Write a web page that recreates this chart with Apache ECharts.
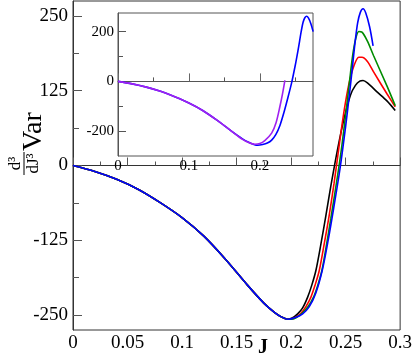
<!DOCTYPE html>
<html><head><meta charset="utf-8">
<script src="https://cdn.jsdelivr.net/npm/echarts@6/dist/echarts.min.js"></script>
<style>html,body{margin:0;padding:0;background:#fff}#c{width:415px;height:357px}</style>
</head><body><div id="c"></div>
<script>
// Shared branch (all curves coincide up to the minimum)
const commonBranch = [[0,0],[0.02,-10],[0.04,-23],[0.06,-40],[0.08,-62],[0.1,-87],[0.12,-118],[0.14,-157],[0.16,-200],[0.175,-230],[0.185,-246],[0.191,-253],[0.197,-257]];
const blackTail = [[0.201,-255],[0.206,-248],[0.2106,-238],[0.2152,-220],[0.219,-200],[0.2227,-176],[0.2273,-132],[0.2318,-85],[0.2364,-35],[0.2424,25],[0.2485,78],[0.2545,118],[0.259,134],[0.263,141],[0.266,142],[0.27,138],[0.2788,123],[0.2879,108],[0.2955,92]];
const redTail = [[0.2,-256.5],[0.204,-254],[0.209,-247],[0.2136,-236],[0.2182,-220],[0.222,-200],[0.2258,-176],[0.2303,-132],[0.2348,-85],[0.2394,-30],[0.244,32],[0.2485,90],[0.253,136],[0.2575,166],[0.2621,181],[0.265,181],[0.27,174],[0.2758,156],[0.2879,120],[0.2955,98]];
const greenTail = [[0.2,-257],[0.205,-254],[0.21,-247],[0.2155,-236],[0.2206,-220],[0.2245,-200],[0.2282,-176],[0.2318,-140],[0.2365,-88],[0.2424,-20],[0.2465,32],[0.2509,98],[0.2545,155],[0.2564,183],[0.259,210],[0.2621,224],[0.265,223],[0.27,208],[0.2758,183],[0.2879,133],[0.2955,100]];
const blueTail = [[0.204,-254],[0.2106,-248],[0.2167,-236],[0.2227,-213],[0.2285,-176],[0.234,-125],[0.239,-72],[0.2449,-5],[0.25,65],[0.2537,122],[0.2561,162],[0.2585,203],[0.261,238],[0.2635,256],[0.266,262],[0.2685,255],[0.272,232],[0.2752,200]];
const purpleCurve = [[0,0],[0.02,-10],[0.04,-23],[0.06,-40],[0.08,-62],[0.1,-87],[0.12,-118],[0.14,-157],[0.16,-200],[0.175,-232],[0.185,-247],[0.193,-253],[0.2,-250],[0.207,-238],[0.2167,-208],[0.223,-165],[0.2284,-100],[0.232,-50],[0.2354,4]];

const blackCurve = commonBranch.concat(blackTail);
const redCurve = commonBranch.concat(redTail);
const greenCurve = commonBranch.concat(greenTail);
const blueCurve = commonBranch.concat(blueTail);

const mainYLabels = [-250,-125,0,125,250];
const mainYMinor = [-187.5,-62.5,62.5,187.5];
const insetXLabels = [0,0.1,0.2];
const insetXMinor = [0.05,0.15,0.25];
const insetYLabels = [-200,0,200];
const insetYMinor = [-100,100];

const FONT = 'Liberation Serif';
const fmt = v => String(+(+v).toFixed(3));
const line = (name, data, color, x, y) => ({
  name, type:'line', data, xAxisIndex:x, yAxisIndex:y, showSymbol:false, smooth:0.3,
  lineStyle:{color, width:1.6}, itemStyle:{color}, animation:false, z: 3
});

const chart = echarts.init(document.getElementById('c'), null, {renderer:'canvas'});
chart.setOption({
  animation:false,
  backgroundColor:'#fff',
  grid:[
    {left:73, top:1, width:330, height:329, show:true, borderColor:'#333', borderWidth:1, backgroundColor:'transparent'},
    {left:118, top:13, width:195, height:143, show:true, borderColor:'#555', borderWidth:1, backgroundColor:'#fff', z:5}
  ],
  xAxis:[
    {gridIndex:0, type:'value', min:0, max:0.3, interval:0.05, position:'bottom',
     axisLine:{lineStyle:{color:'#333'}},
     axisTick:{inside:true, length:8, lineStyle:{color:'#555'}},
     minorTick:{show:true, splitNumber:2, length:4, lineStyle:{color:'#555'}},
     axisLabel:{fontSize:19, fontFamily:FONT, color:'#000', margin:4, formatter:fmt},
     splitLine:{show:false}, minorSplitLine:{show:false}},
    {gridIndex:1, type:'value', min:0, max:0.275, position:'bottom', z:6,
     axisLine:{lineStyle:{color:'#555'}},
     axisTick:{inside:true, length:8, customValues:insetXLabels, lineStyle:{color:'#666'}},
     axisLabel:{fontSize:15, fontFamily:FONT, color:'#000', margin:3, customValues:insetXLabels, formatter:fmt},
     splitLine:{show:false}},
    {gridIndex:1, type:'value', min:0, max:0.275, position:'bottom', z:6,
     axisLine:{show:false},
     axisTick:{inside:true, length:4, customValues:insetXMinor, lineStyle:{color:'#555'}},
     axisLabel:{show:false}, splitLine:{show:false}}
  ],
  yAxis:[
    {gridIndex:0, type:'value', min:-275, max:275, position:'left',
     axisLine:{show:true, lineStyle:{color:'#333'}},
     axisTick:{show:true, inside:true, length:9, customValues:mainYLabels, lineStyle:{color:'#555'}},
     axisLabel:{fontSize:19, fontFamily:FONT, color:'#000', margin:5, customValues:mainYLabels},
     splitLine:{show:false}},
    {gridIndex:0, type:'value', min:-275, max:275, position:'left',
     axisLine:{show:false},
     axisTick:{show:true, inside:true, length:6, customValues:mainYMinor, lineStyle:{color:'#555'}},
     axisLabel:{show:false}, splitLine:{show:false}},
    {gridIndex:1, type:'value', min:-300, max:275, position:'left', z:6,
     axisLine:{show:true, lineStyle:{color:'#555'}},
     axisTick:{show:true, inside:true, length:8, customValues:insetYLabels, lineStyle:{color:'#555'}},
     axisLabel:{fontSize:15, fontFamily:FONT, color:'#000', margin:4, customValues:insetYLabels},
     splitLine:{show:false}},
    {gridIndex:1, type:'value', min:-300, max:275, position:'left', z:6,
     axisLine:{show:false},
     axisTick:{show:true, inside:true, length:5, customValues:insetYMinor, lineStyle:{color:'#555'}},
     axisLabel:{show:false}, splitLine:{show:false}}
  ],
  series:[
    line('black', blackCurve, '#000000', 0, 0),
    line('red', redCurve, '#ff0000', 0, 0),
    line('green', greenCurve, '#008c00', 0, 0),
    line('blue', blueCurve, '#0000ff', 0, 0),
    Object.assign(line('inset blue', blueCurve, '#0000ff', 1, 2), {z:7}),
    Object.assign(line('inset purple', purpleCurve, '#a020f0', 1, 2), {z:8})
  ],
  graphic:[
    {type:'group', x:24, y:175, rotation:Math.PI/2, z:10, children:[
      {type:'line', shape:{x1:0, y1:0, x2:23, y2:0}, style:{stroke:'#000', lineWidth:1}},
      {type:'text', x:11.5, y:-8, style:{text:'d³', font:'17px "Liberation Serif"', fill:'#000', align:'center', verticalAlign:'middle'}},
      {type:'text', x:11.5, y:10, style:{text:'dJ³', font:'17px "Liberation Serif"', fill:'#000', align:'center', verticalAlign:'middle'}},
      {type:'text', x:24, y:10, style:{text:'Var', font:'28px "Liberation Serif"', fill:'#000', align:'left', verticalAlign:'middle'}}
    ]},
    {type:'text', x:263, y:348, z:10, style:{text:'J', font:'bold 20px "Liberation Serif"', fill:'#000', align:'center', verticalAlign:'middle'}}
  ]
});
</script></body></html>
